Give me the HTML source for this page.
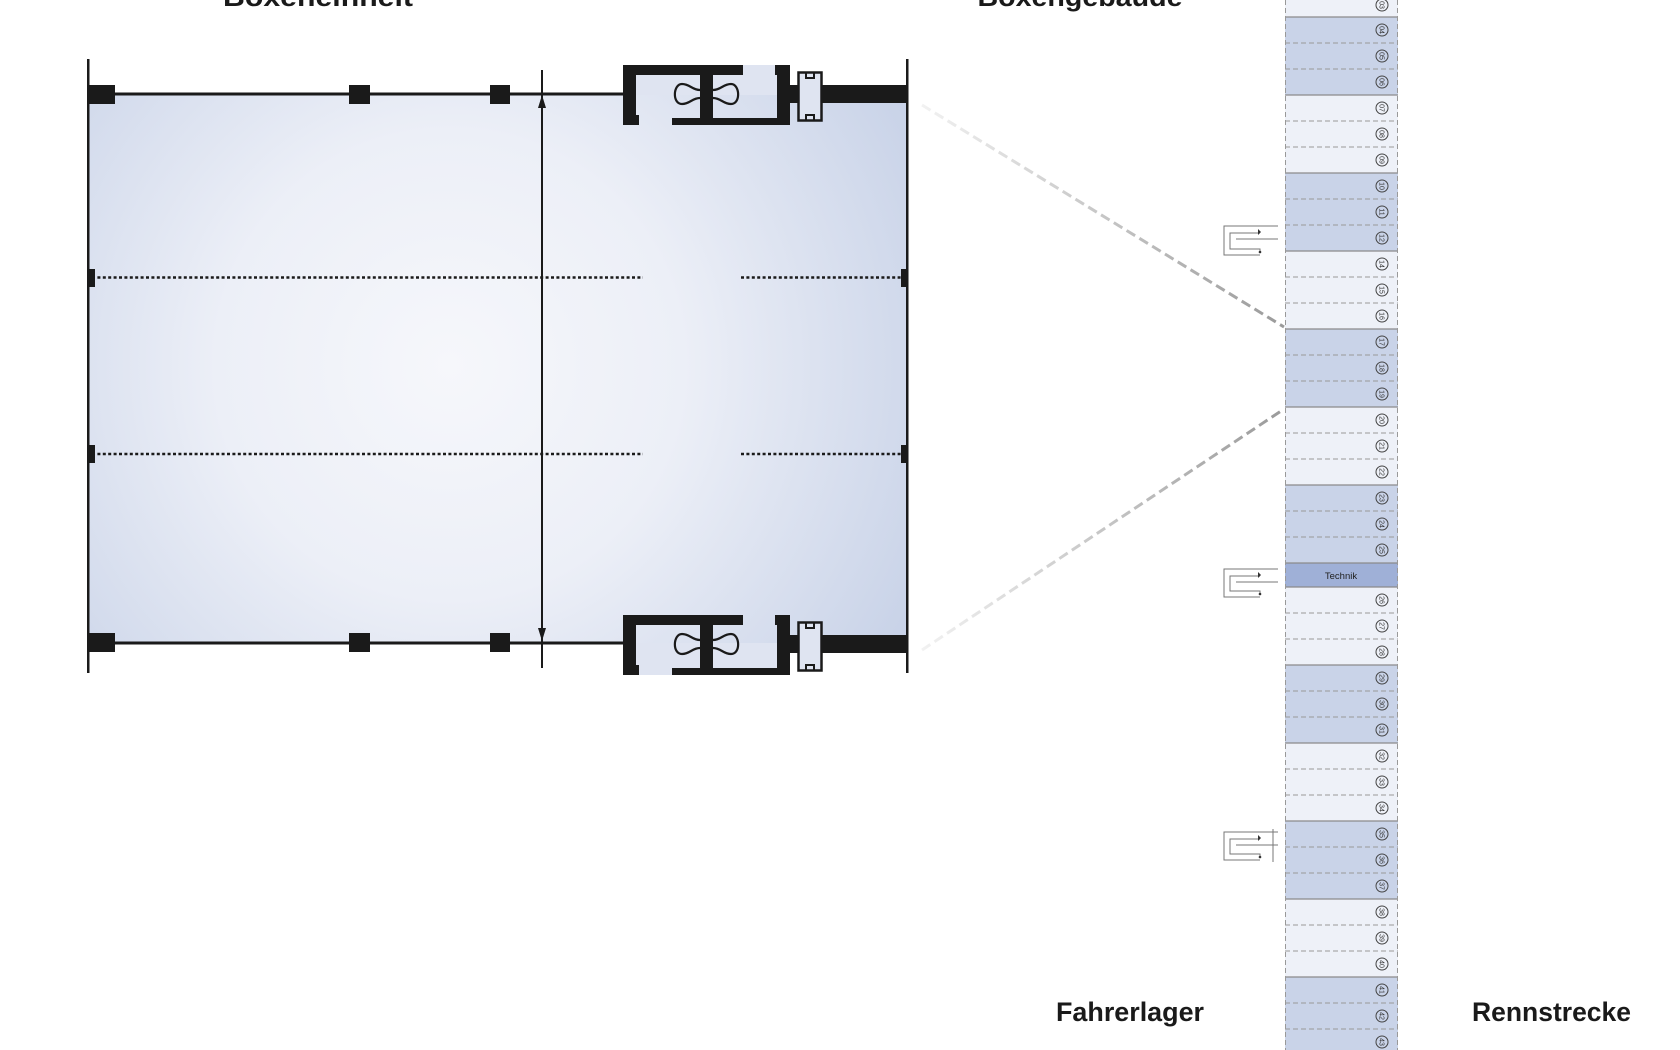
<!DOCTYPE html>
<html><head><meta charset="utf-8"><style>
html,body{margin:0;padding:0;background:#fff;}
svg{display:block;}
text{font-family:"Liberation Sans",sans-serif;}
</style></head><body>
<svg width="1680" height="1050" viewBox="0 0 1680 1050" xmlns="http://www.w3.org/2000/svg">
<defs>
<radialGradient id="rg" cx="450" cy="365" r="520" gradientUnits="userSpaceOnUse">
<stop offset="0" stop-color="#f6f7fb"/><stop offset="0.45" stop-color="#eceff7"/><stop offset="1" stop-color="#c9d3e8"/>
</radialGradient>
<linearGradient id="lg1" x1="909" y1="0" x2="1284" y2="0" gradientUnits="userSpaceOnUse">
<stop offset="0" stop-color="#9a9a9a" stop-opacity="0.1"/><stop offset="1" stop-color="#9a9a9a"/>
</linearGradient>
<g id="comp">
<rect x="623" y="65" width="120" height="10" fill="#1a1a1a"/>
<rect x="623" y="65" width="13" height="60" fill="#1a1a1a"/>
<rect x="623" y="115" width="16" height="10" fill="#1a1a1a"/>
<rect x="700" y="65" width="13" height="60" fill="#1a1a1a"/>
<rect x="672" y="118" width="118" height="7" fill="#1a1a1a"/>
<rect x="777" y="65" width="13" height="60" fill="#1a1a1a"/>
<rect x="775" y="65" width="6" height="10" fill="#1a1a1a"/>
<rect x="790" y="85" width="118" height="18" fill="#1a1a1a"/>
<rect x="798.5" y="72.5" width="23" height="48" fill="#dfe4f1" stroke="#1a1a1a" stroke-width="2.5"/>
<rect x="790" y="85" width="8" height="18" fill="#1a1a1a"/>
<rect x="822" y="85" width="8" height="18" fill="#1a1a1a"/>
<path d="M806 73 v5 h8 v-5 M806 120 v-5 h8 v5" fill="none" stroke="#1a1a1a" stroke-width="2"/>
<path d="M700 90 C692 90 690 84 682 84 C673 84 672 104 682 104 C690 104 692 98 700 98" fill="none" stroke="#1a1a1a" stroke-width="2.2"/>
<path d="M713 90 C721 90 723 84 731 84 C740 84 741 104 731 104 C723 104 721 98 713 98" fill="none" stroke="#1a1a1a" stroke-width="2.2"/>
</g>
</defs>

<text x="318" y="6" text-anchor="middle" font-size="27" font-weight="bold" fill="#1a1a1a" textLength="190" lengthAdjust="spacingAndGlyphs">Boxeneinheit</text>
<text x="1080" y="6" text-anchor="middle" font-size="27" font-weight="bold" fill="#1a1a1a" textLength="205" lengthAdjust="spacingAndGlyphs">Boxengebäude</text>

<!-- fill -->
<rect x="89" y="94" width="818" height="550" fill="url(#rg)"/>
<rect x="636" y="65" width="154" height="30" fill="#dfe4f1"/>
<rect x="636" y="643" width="154" height="32" fill="#dfe4f1"/>

<!-- walls -->
<rect x="87" y="59" width="2.5" height="614" fill="#1a1a1a"/>
<rect x="906" y="59" width="2.5" height="614" fill="#1a1a1a"/>
<rect x="88" y="92.5" width="540" height="3" fill="#1a1a1a"/>
<rect x="88" y="641.5" width="540" height="3" fill="#1a1a1a"/>
<rect x="88" y="85" width="27" height="19" fill="#1a1a1a"/>
<rect x="349" y="85" width="21" height="19" fill="#1a1a1a"/>
<rect x="490" y="85" width="20" height="19" fill="#1a1a1a"/>
<rect x="88" y="633" width="27" height="19" fill="#1a1a1a"/>
<rect x="349" y="633" width="21" height="19" fill="#1a1a1a"/>
<rect x="490" y="633" width="20" height="19" fill="#1a1a1a"/>

<!-- dimension -->
<line x1="542" y1="70" x2="542" y2="668" stroke="#1a1a1a" stroke-width="2"/>
<path d="M542 95 L538 108 L546 108 Z M542 641 L538 628 L546 628 Z" fill="#1a1a1a"/>

<!-- dotted -->
<g stroke="#1a1a1a" stroke-width="2.5" stroke-dasharray="3,2.4">
<line x1="92" y1="277.5" x2="643" y2="277.5"/><line x1="741" y1="277.5" x2="905" y2="277.5"/>
<line x1="92" y1="454" x2="643" y2="454"/><line x1="741" y1="454" x2="905" y2="454"/>
</g>
<rect x="88" y="269" width="7" height="18" fill="#1a1a1a"/>
<rect x="88" y="445" width="7" height="18" fill="#1a1a1a"/>
<rect x="901" y="269" width="7" height="18" fill="#1a1a1a"/>
<rect x="901" y="445" width="7" height="18" fill="#1a1a1a"/>

<use href="#comp"/>
<use href="#comp" transform="translate(0,550)"/>

<!-- connector dashed lines -->
<line x1="922" y1="105" x2="1284" y2="327" stroke="url(#lg1)" stroke-width="3" stroke-dasharray="10,5"/>
<line x1="922" y1="650" x2="1284" y2="409" stroke="url(#lg1)" stroke-width="3" stroke-dasharray="10,5"/>

<!-- column -->
<g>
<rect x="1285" y="-10" width="113" height="27" fill="#eef1f8"/>
<rect x="1285" y="17" width="113" height="78" fill="#c9d3e8"/>
<rect x="1285" y="95" width="113" height="78" fill="#eef1f8"/>
<rect x="1285" y="173" width="113" height="78" fill="#c9d3e8"/>
<rect x="1285" y="251" width="113" height="78" fill="#eef1f8"/>
<rect x="1285" y="329" width="113" height="78" fill="#c9d3e8"/>
<rect x="1285" y="407" width="113" height="78" fill="#eef1f8"/>
<rect x="1285" y="485" width="113" height="78" fill="#c9d3e8"/>
<rect x="1285" y="563" width="113" height="24" fill="#9fb0d7"/>
<rect x="1285" y="587" width="113" height="78" fill="#eef1f8"/>
<rect x="1285" y="665" width="113" height="78" fill="#c9d3e8"/>
<rect x="1285" y="743" width="113" height="78" fill="#eef1f8"/>
<rect x="1285" y="821" width="113" height="78" fill="#c9d3e8"/>
<rect x="1285" y="899" width="113" height="78" fill="#eef1f8"/>
<rect x="1285" y="977" width="113" height="80" fill="#c9d3e8"/>
</g>
<g stroke="#8a8a8a" stroke-width="1.3">
<line x1="1285" y1="17" x2="1398" y2="17"/><line x1="1285" y1="95" x2="1398" y2="95"/>
<line x1="1285" y1="173" x2="1398" y2="173"/><line x1="1285" y1="251" x2="1398" y2="251"/>
<line x1="1285" y1="329" x2="1398" y2="329"/><line x1="1285" y1="407" x2="1398" y2="407"/>
<line x1="1285" y1="485" x2="1398" y2="485"/><line x1="1285" y1="563" x2="1398" y2="563"/>
<line x1="1285" y1="587" x2="1398" y2="587"/><line x1="1285" y1="665" x2="1398" y2="665"/>
<line x1="1285" y1="743" x2="1398" y2="743"/><line x1="1285" y1="821" x2="1398" y2="821"/>
<line x1="1285" y1="899" x2="1398" y2="899"/><line x1="1285" y1="977" x2="1398" y2="977"/>
</g>
<g stroke="#999" stroke-width="1" stroke-dasharray="5,3">
<line x1="1285" y1="43" x2="1398" y2="43"/><line x1="1285" y1="69" x2="1398" y2="69"/>
<line x1="1285" y1="121" x2="1398" y2="121"/><line x1="1285" y1="147" x2="1398" y2="147"/>
<line x1="1285" y1="199" x2="1398" y2="199"/><line x1="1285" y1="225" x2="1398" y2="225"/>
<line x1="1285" y1="277" x2="1398" y2="277"/><line x1="1285" y1="303" x2="1398" y2="303"/>
<line x1="1285" y1="355" x2="1398" y2="355"/><line x1="1285" y1="381" x2="1398" y2="381"/>
<line x1="1285" y1="433" x2="1398" y2="433"/><line x1="1285" y1="459" x2="1398" y2="459"/>
<line x1="1285" y1="511" x2="1398" y2="511"/><line x1="1285" y1="537" x2="1398" y2="537"/>
<line x1="1285" y1="613" x2="1398" y2="613"/><line x1="1285" y1="639" x2="1398" y2="639"/>
<line x1="1285" y1="691" x2="1398" y2="691"/><line x1="1285" y1="717" x2="1398" y2="717"/>
<line x1="1285" y1="769" x2="1398" y2="769"/><line x1="1285" y1="795" x2="1398" y2="795"/>
<line x1="1285" y1="847" x2="1398" y2="847"/><line x1="1285" y1="873" x2="1398" y2="873"/>
<line x1="1285" y1="925" x2="1398" y2="925"/><line x1="1285" y1="951" x2="1398" y2="951"/>
<line x1="1285" y1="1003" x2="1398" y2="1003"/><line x1="1285" y1="1029" x2="1398" y2="1029"/>
<line x1="1285.5" y1="0" x2="1285.5" y2="1050"/><line x1="1397.5" y1="0" x2="1397.5" y2="1050"/>
</g>
<text x="1341" y="579" text-anchor="middle" font-size="9.5" fill="#222">Technik</text>

<g fill="none" stroke="#444" stroke-width="1">
<circle cx="1382" cy="5" r="6"/><circle cx="1382" cy="30" r="6"/><circle cx="1382" cy="56" r="6"/><circle cx="1382" cy="82" r="6"/>
<circle cx="1382" cy="108" r="6"/><circle cx="1382" cy="134" r="6"/><circle cx="1382" cy="160" r="6"/>
<circle cx="1382" cy="186" r="6"/><circle cx="1382" cy="212" r="6"/><circle cx="1382" cy="238" r="6"/>
<circle cx="1382" cy="264" r="6"/><circle cx="1382" cy="290" r="6"/><circle cx="1382" cy="316" r="6"/>
<circle cx="1382" cy="342" r="6"/><circle cx="1382" cy="368" r="6"/><circle cx="1382" cy="394" r="6"/>
<circle cx="1382" cy="420" r="6"/><circle cx="1382" cy="446" r="6"/><circle cx="1382" cy="472" r="6"/>
<circle cx="1382" cy="498" r="6"/><circle cx="1382" cy="524" r="6"/><circle cx="1382" cy="550" r="6"/>
<circle cx="1382" cy="600" r="6"/><circle cx="1382" cy="626" r="6"/><circle cx="1382" cy="652" r="6"/>
<circle cx="1382" cy="678" r="6"/><circle cx="1382" cy="704" r="6"/><circle cx="1382" cy="730" r="6"/>
<circle cx="1382" cy="756" r="6"/><circle cx="1382" cy="782" r="6"/><circle cx="1382" cy="808" r="6"/>
<circle cx="1382" cy="834" r="6"/><circle cx="1382" cy="860" r="6"/><circle cx="1382" cy="886" r="6"/>
<circle cx="1382" cy="912" r="6"/><circle cx="1382" cy="938" r="6"/><circle cx="1382" cy="964" r="6"/>
<circle cx="1382" cy="990" r="6"/><circle cx="1382" cy="1016" r="6"/><circle cx="1382" cy="1042" r="6"/>
</g>
<g font-size="7" fill="#333" text-anchor="middle">
<text transform="translate(1379.5,5) rotate(90)">03</text><text transform="translate(1379.5,30) rotate(90)">04</text><text transform="translate(1379.5,56) rotate(90)">05</text><text transform="translate(1379.5,82) rotate(90)">06</text>
<text transform="translate(1379.5,108) rotate(90)">07</text><text transform="translate(1379.5,134) rotate(90)">08</text><text transform="translate(1379.5,160) rotate(90)">09</text>
<text transform="translate(1379.5,186) rotate(90)">10</text><text transform="translate(1379.5,212) rotate(90)">11</text><text transform="translate(1379.5,238) rotate(90)">12</text>
<text transform="translate(1379.5,264) rotate(90)">14</text><text transform="translate(1379.5,290) rotate(90)">15</text><text transform="translate(1379.5,316) rotate(90)">16</text>
<text transform="translate(1379.5,342) rotate(90)">17</text><text transform="translate(1379.5,368) rotate(90)">18</text><text transform="translate(1379.5,394) rotate(90)">19</text>
<text transform="translate(1379.5,420) rotate(90)">20</text><text transform="translate(1379.5,446) rotate(90)">21</text><text transform="translate(1379.5,472) rotate(90)">22</text>
<text transform="translate(1379.5,498) rotate(90)">23</text><text transform="translate(1379.5,524) rotate(90)">24</text><text transform="translate(1379.5,550) rotate(90)">25</text>
<text transform="translate(1379.5,600) rotate(90)">26</text><text transform="translate(1379.5,626) rotate(90)">27</text><text transform="translate(1379.5,652) rotate(90)">28</text>
<text transform="translate(1379.5,678) rotate(90)">29</text><text transform="translate(1379.5,704) rotate(90)">30</text><text transform="translate(1379.5,730) rotate(90)">31</text>
<text transform="translate(1379.5,756) rotate(90)">32</text><text transform="translate(1379.5,782) rotate(90)">33</text><text transform="translate(1379.5,808) rotate(90)">34</text>
<text transform="translate(1379.5,834) rotate(90)">35</text><text transform="translate(1379.5,860) rotate(90)">36</text><text transform="translate(1379.5,886) rotate(90)">37</text>
<text transform="translate(1379.5,912) rotate(90)">38</text><text transform="translate(1379.5,938) rotate(90)">39</text><text transform="translate(1379.5,964) rotate(90)">40</text>
<text transform="translate(1379.5,990) rotate(90)">41</text><text transform="translate(1379.5,1016) rotate(90)">42</text><text transform="translate(1379.5,1042) rotate(90)">43</text>
</g>

<!-- entry icons -->
<g fill="none" stroke="#777" stroke-width="1">
<path d="M1278 226 H1224 V255 H1260 M1260 233 H1230 V249 H1260 V252 M1236 239 H1278"/>
<path d="M1278 569 H1224 V597 H1260 M1260 576 H1230 V591 H1260 V594 M1236 582 H1278"/>
<path d="M1278 832 H1224 V860 H1260 M1260 839 H1230 V854 H1260 V857 M1236 845 H1278 M1273 829 V862"/>
</g>
<g fill="#333">
<path d="M1258 229 l3 3 l-3 3 z"/><circle cx="1260" cy="252" r="1.3"/>
<path d="M1258 572 l3 3 l-3 3 z"/><circle cx="1260" cy="594" r="1.3"/>
<path d="M1258 835 l3 3 l-3 3 z"/><circle cx="1260" cy="857" r="1.3"/>
</g>

<text x="1056" y="1021" font-size="27" font-weight="bold" fill="#1a1a1a" textLength="148" lengthAdjust="spacingAndGlyphs">Fahrerlager</text>
<text x="1472" y="1021" font-size="27" font-weight="bold" fill="#1a1a1a" textLength="159" lengthAdjust="spacingAndGlyphs">Rennstrecke</text>
</svg>
</body></html>
